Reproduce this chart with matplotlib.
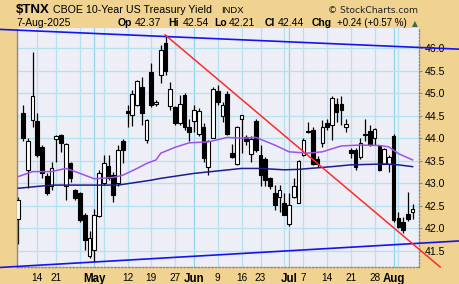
import matplotlib
matplotlib.use("Agg")
import matplotlib.pyplot as plt
import numpy as np
import pandas as pd


# =========================================================
# DATA  ($TNX daily candles, 8-Apr-2025 .. 7-Aug-2025)
# =========================================================

holidays = ["2025-04-18", "2025-05-26", "2025-06-19", "2025-07-04"]
dates = pd.bdate_range("2025-04-08", "2025-08-07")
dates = dates[~dates.isin(pd.to_datetime(holidays))]

opens = [42.20, 44.56, 43.30, 44.41, 44.39, 43.81, 43.17, 42.95, 43.98, 44.07,
         42.93, 43.46, 42.84, 42.79, 42.30, 41.38, 41.52, 42.27, 43.01, 43.38,
         43.18, 43.00, 43.93, 44.61, 44.52, 44.74, 45.15, 43.96, 45.48, 44.76,
         45.41, 46.11, 44.72, 44.69, 44.33, 44.96, 44.24, 44.39, 44.09, 44.26,
         43.37, 44.01, 45.04, 44.50, 44.99, 43.67, 43.44, 44.42, 44.02, 43.65,
         44.39, 43.63, 43.53, 43.11, 42.78, 42.70, 42.56, 42.09, 42.69, 42.57,
         43.63, 44.17, 44.19, 43.55, 43.89, 44.33, 44.30, 44.76, 44.76, 44.24,
         43.73, 43.73, 43.58, 44.10, 44.17, 44.00, 43.83, 43.44, 43.44, 44.05,
         42.22, 42.15, 42.32, 42.37]
highs = [42.70, 44.74, 44.00, 45.91, 44.56, 43.85, 43.22, 43.48, 44.07, 44.10,
         43.89, 43.48, 42.87, 42.81, 42.33, 41.93, 42.44, 43.30, 43.63, 43.63,
         43.26, 43.85, 43.98, 44.74, 45.07, 45.30, 45.37, 44.44, 45.67, 44.85,
         46.07, 46.30, 45.26, 44.72, 44.96, 45.00, 44.44, 44.74, 44.67, 44.33,
         43.96, 45.13, 45.18, 44.81, 45.06, 43.87, 44.27, 44.52, 44.07, 44.04,
         44.44, 43.85, 43.59, 43.15, 42.96, 42.96, 42.78, 42.78, 43.11, 43.52,
         44.00, 44.37, 44.26, 43.60, 44.41, 44.44, 44.93, 44.89, 44.93, 44.42,
         43.78, 43.78, 44.00, 44.42, 44.30, 44.22, 43.85, 43.78, 43.62, 44.10,
         42.37, 42.26, 42.81, 42.54]
lows = [41.64, 43.93, 42.89, 44.26, 43.59, 43.11, 42.74, 42.85, 43.48, 43.70,
        42.63, 43.04, 42.63, 42.13, 41.52, 41.33, 41.26, 42.26, 42.96, 43.07,
        42.59, 42.93, 43.46, 44.26, 44.27, 44.72, 44.30, 43.89, 44.70, 44.72,
        45.22, 45.41, 44.63, 44.30, 44.30, 44.18, 43.93, 44.15, 44.05, 43.48,
        43.18, 44.00, 44.74, 44.37, 44.07, 43.56, 43.41, 43.67, 43.85, 43.48,
        43.70, 42.93, 42.93, 42.87, 42.41, 42.37, 42.30, 42.05, 42.67, 42.56,
        43.61, 44.11, 43.41, 43.37, 43.80, 44.18, 43.96, 44.37, 44.30, 44.15,
        43.56, 43.30, 43.55, 43.93, 43.83, 43.85, 43.28, 43.43, 43.26, 42.15,
        42.00, 41.89, 42.17, 42.21]
closes = [42.63, 44.00, 43.93, 44.94, 43.63, 43.22, 42.79, 43.33, 44.05, 43.89,
          43.87, 43.11, 42.67, 42.19, 41.74, 41.78, 42.30, 43.22, 43.44, 43.11,
          42.74, 43.74, 43.74, 44.57, 44.99, 45.27, 44.56, 44.41, 44.74, 44.81,
          45.96, 45.50, 45.09, 44.33, 44.76, 44.24, 44.15, 44.63, 44.61, 43.56,
          43.93, 45.09, 44.81, 44.74, 44.10, 43.58, 44.24, 44.51, 43.93, 43.98,
          43.74, 43.18, 43.07, 42.93, 42.52, 42.85, 42.30, 42.52, 42.94, 43.50,
          43.96, 44.15, 43.44, 43.44, 44.24, 44.26, 44.89, 44.59, 44.63, 44.31,
          43.68, 43.37, 43.89, 44.07, 43.85, 44.20, 43.30, 43.76, 43.59, 42.18,
          42.04, 41.96, 42.20, 42.44]

# moving averages at a handful of bars
ma50_idx = [0, 3, 7, 10, 12, 16, 20, 22, 25, 27, 29, 30, 33, 36, 40, 44, 47,
            50, 54, 57, 61, 64, 68, 72, 76, 78, 80, 83]
ma50_val = [43.15, 43.26, 43.26, 43.33, 43.26, 43.10, 43.13, 43.18, 43.33,
            43.44, 43.52, 43.67, 43.80, 43.90, 43.92, 44.02, 44.00, 44.02,
            43.85, 43.70, 43.67, 43.70, 43.83, 43.85, 43.84, 43.81, 43.66, 43.52]
ma200_idx = [0, 7, 14, 21, 28, 30, 37, 47, 51, 56, 59, 66, 70, 77, 80, 83]
ma200_val = [42.89, 42.96, 42.96, 42.96, 43.07, 43.11, 43.22, 43.33, 43.33,
             43.30, 43.31, 43.37, 43.41, 43.43, 43.41, 43.37]

# hand drawn trendlines (bar index, yield)
trend_top_x = [-3.85, 93.0]
trend_top_y = [46.42, 45.98]
trend_bot_x = [-3.85, 93.0]
trend_bot_y = [41.13, 41.72]
trend_red_x = [30.9, 88.8]
trend_red_y = [46.30, 41.14]

# x axis: gridline dates and their labels
grid_dates = ["2025-04-14", "2025-04-21", "2025-04-28", "2025-05-01", "2025-05-05",
              "2025-05-12", "2025-05-19", "2025-05-27", "2025-06-02", "2025-06-09",
              "2025-06-16", "2025-06-23", "2025-06-30", "2025-07-01", "2025-07-07",
              "2025-07-14", "2025-07-21", "2025-07-28", "2025-08-01", "2025-08-04"]
grid_labels = ["14", "21", "", "May", "", "12", "19", "27", "Jun", "9", "16", "23",
               "", "Jul", "7", "14", "21", "28", "Aug", ""]
month_labels = ["May", "Jun", "Jul", "Aug"]

y_ticks = [41.5, 42.0, 42.5, 43.0, 43.5, 44.0, 44.5, 45.0, 45.5, 46.0]


# =========================================================
# STYLE
# =========================================================

TAN = "#F0D291"
PLOT_BG = "#EEEEF6"
GRID = "#B4E2F0"
GRID_MONTH = "#92D4EC"
W, H = 460, 284

plt.rcParams["font.family"] = ["Liberation Sans", "DejaVu Sans"]

fig = plt.figure(figsize=(W / 100, H / 100), dpi=100, facecolor=TAN)
ax = fig.add_axes([17 / W, 1 - 267 / H, (419.5 - 17) / W, (267 - 28.5) / H])
ax.set_facecolor(PLOT_BG)

o = np.array(opens)
h = np.array(highs)
l = np.array(lows)
c = np.array(closes)
x = np.arange(len(dates))

# ---------------------------------------------------------
# GRID
# ---------------------------------------------------------

pos = {d: i for i, d in enumerate(dates.strftime("%Y-%m-%d"))}
grid_x = [pos[d] for d in grid_dates]

for gx, lab in zip(grid_x, grid_labels):
    col = GRID_MONTH if lab in month_labels else GRID
    ax.axvline(gx, color=col, lw=0.9, zorder=0)
for yt in y_ticks:
    ax.axhline(yt, color=GRID, lw=0.9, zorder=0)

# ---------------------------------------------------------
# CANDLES
# ---------------------------------------------------------

up = c >= o
ax.vlines(x, l, h, color="black", lw=0.9, zorder=2)
ax.bar(x, np.maximum(np.abs(c - o), 0.015), bottom=np.minimum(o, c), width=0.76,
       color=np.where(up, "white", "black"), edgecolor="black", linewidth=0.8,
       zorder=3)

# ---------------------------------------------------------
# OVERLAYS
# ---------------------------------------------------------

ax.plot(ma50_idx, ma50_val, color="#9E52E6", lw=1.1, zorder=4)
ax.plot(ma200_idx, ma200_val, color="#1C1C8E", lw=1.1, zorder=4)

ax.plot(trend_top_x, trend_top_y, color="#1414F0", lw=1.2, clip_on=False, zorder=5)
ax.plot(trend_bot_x, trend_bot_y, color="#1414F0", lw=1.2, clip_on=False, zorder=5)
ax.plot(trend_red_x, trend_red_y, color="#FF2A2A", lw=1.1, clip_on=False, zorder=5)

# ---------------------------------------------------------
# AXES
# ---------------------------------------------------------

ax.set_xlim(-0.27, 84.46)
ax.set_ylim(41.14, 46.44)

ax.yaxis.tick_right()
ax.set_yticks(y_ticks)
ax.set_yticklabels([f"{v:.1f}" for v in y_ticks])
ax.tick_params(axis="y", length=2, width=0.6, color="#777777", pad=2,
               labelsize=7.6)

lab_x = [gx for gx, lab in zip(grid_x, grid_labels) if lab]
lab_t = [lab for lab in grid_labels if lab]
ax.set_xticks(lab_x)
ax.set_xticklabels(lab_t)
ax.tick_params(axis="x", length=0, pad=4.5, labelsize=7.2)
for t in ax.get_xticklabels():
    if t.get_text() in month_labels:
        t.set_fontweight("bold")
        t.set_fontsize(8.3)

ax.spines["top"].set_visible(False)
ax.spines["left"].set_color("#8A8A8A")
ax.spines["left"].set_linewidth(1.0)
ax.spines["right"].set_color("#8A8A8A")
ax.spines["right"].set_linestyle((0, (1, 1.5)))
ax.spines["right"].set_linewidth(1.0)
ax.spines["bottom"].set_color("#9A8A6A")
ax.spines["bottom"].set_linestyle((0, (1, 1.5)))
ax.spines["bottom"].set_linewidth(1.0)

# ---------------------------------------------------------
# HEADER
# ---------------------------------------------------------

def put(px, py, s, **kw):
    fig.text(px / W, 1 - py / H, s, va="baseline", **kw)

put(16, 13.3, "$TNX", fontsize=9.5, fontweight="bold")
put(53, 13.3, "CBOE 10-Year US Treasury Yield", fontsize=7.7)
put(221, 13.3, "INDX", fontsize=6.8)
put(418, 13.3, "\u00a9 StockCharts.com", fontsize=6.6, ha="right",
    family="DejaVu Sans", color="#222222")

chg = c[-1] - c[-2]
pct = chg / c[-2] * 100
put(16, 26, "7-Aug-2025", fontsize=7.5)
put(118, 26, "Op", fontsize=7.5, fontweight="bold")
put(135, 26, f"{o[-1]:.2f}", fontsize=7.6)
put(168, 26, "Hi", fontsize=7.5, fontweight="bold")
put(183, 26, f"{h[-1]:.2f}", fontsize=7.6)
put(214, 26, "Lo", fontsize=7.5, fontweight="bold")
put(229, 26, f"{l[-1]:.2f}", fontsize=7.6)
put(265, 26, "Cl", fontsize=7.5, fontweight="bold")
put(278, 26, f"{c[-1]:.2f}", fontsize=7.6)
put(312, 26, "Chg", fontsize=7.5, fontweight="bold")
put(337, 26, f"{chg:+.2f} ({pct:+.2f} %)", fontsize=7.0)
put(412, 26, "\u25b2", fontsize=5.5, family="DejaVu Sans", color="#3F6A3F")

fig.savefig("out.png", dpi=100, facecolor=TAN)
